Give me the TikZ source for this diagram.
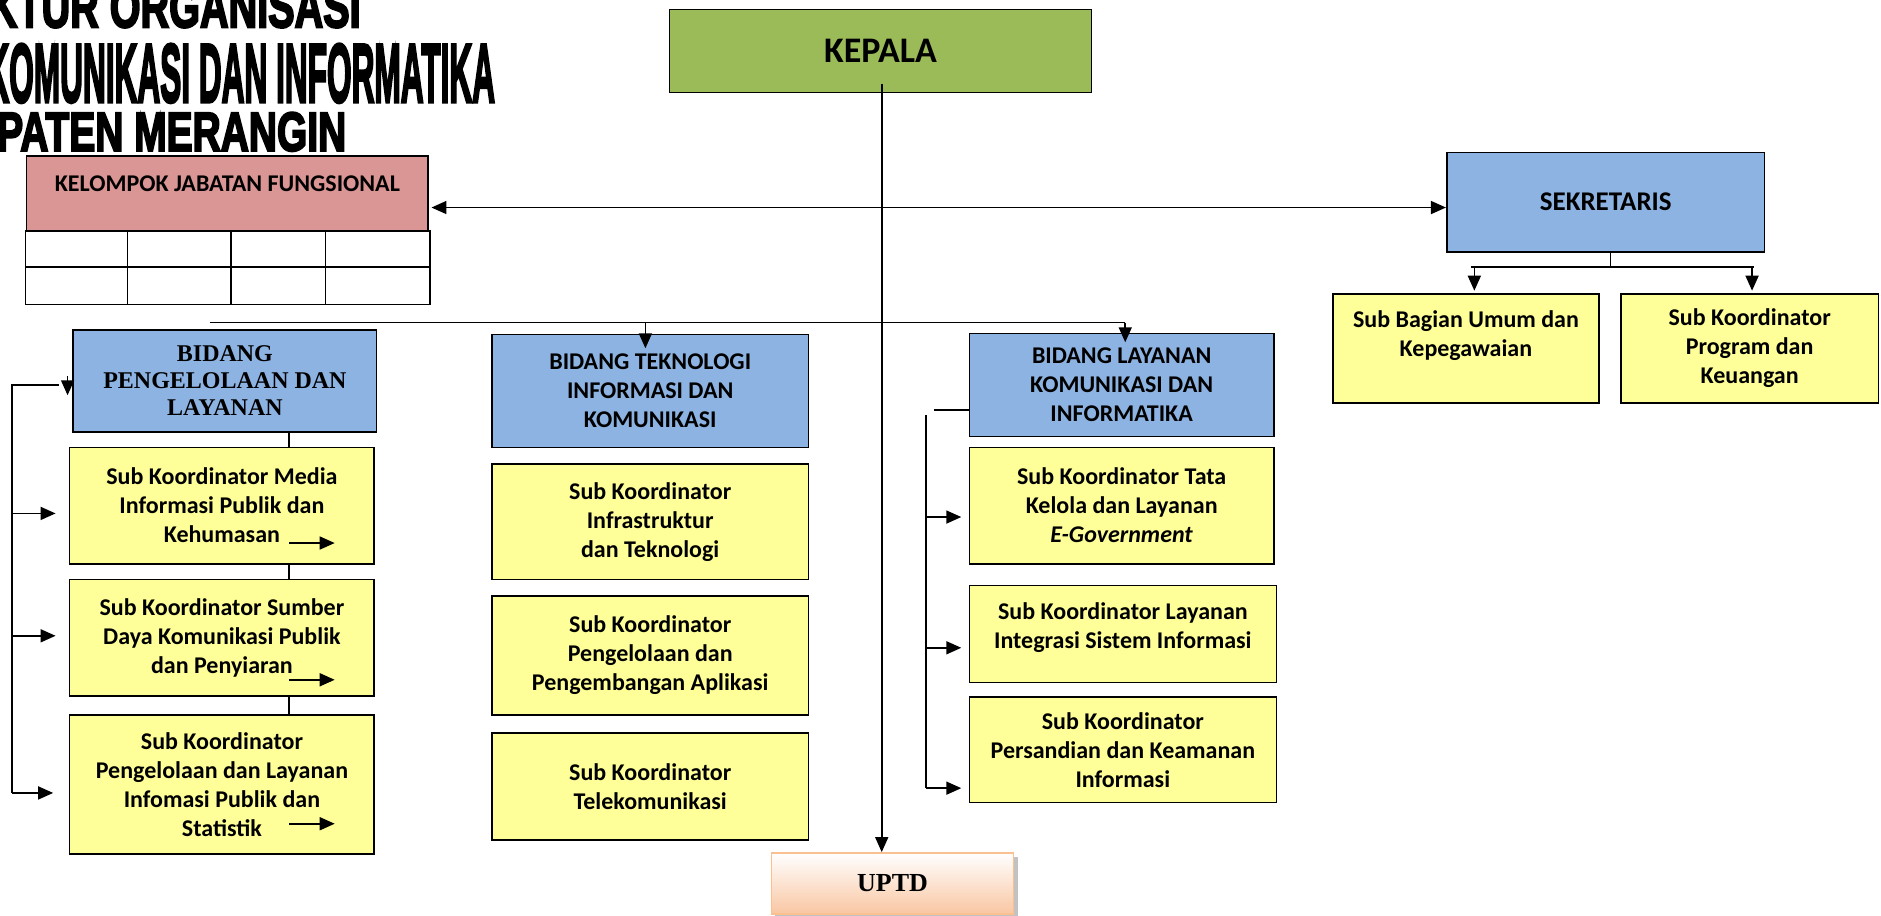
\documentclass[tikz,border=0pt]{standalone}
\usepackage{fontspec}
\usepackage{graphicx}
\usetikzlibrary{arrows.meta,shadows}

\newfontfamily\boxfont{Carlito}
\newfontfamily\serffont{Liberation Serif}
\newfontfamily\judulfont[BoldFeatures={FakeBold=4}]{Liberation Sans}

\definecolor{hijau}{HTML}{9BBB59}
\definecolor{merahmuda}{HTML}{D99694}
\definecolor{birumuda}{HTML}{8DB3E2}
\definecolor{kuning}{HTML}{FFFF99}
\definecolor{persik}{HTML}{F9C6A2}
\definecolor{persikgaris}{HTML}{FAC090}

\begin{document}
\begin{tikzpicture}[x=0.6pt, y=-0.6pt, thick, >={Triangle[length=7.5pt,width=6.5pt]},
  kotak/.style 2 args={draw, minimum width=#1*0.6pt, minimum height=#2*0.6pt, inner sep=0pt, align=center},
  tulisan/.style={font=\boxfont\bfseries\fontsize{12}{14.5}\selectfont},
  subkoor/.style={fill=kuning, tulisan},
  bidang/.style={fill=birumuda, tulisan}]
\useasboundingbox (0,0) rectangle (1568,763);

% judul
\node[anchor=north west, inner sep=0pt] (judul1) at (-10,-12)
  {\resizebox{186pt}{20.4pt}{\judulfont\bfseries KTUR ORGANISASI}};
\node[anchor=north west, inner sep=0pt] (judul2) at (-12,36)
  {\resizebox{254.4pt}{29pt}{\judulfont\bfseries KOMUNIKASI DAN INFORMATIKA}};
\node[anchor=north west, inner sep=0pt] (judul3) at (-3,93)
  {\resizebox{174.6pt}{19.2pt}{\judulfont\bfseries PATEN MERANGIN}};

% pimpinan
\node[kotak={352}{69}, fill=hijau, font=\boxfont\bfseries\fontsize{18}{21}\selectfont] (kepala) at (734,42.5) {KEPALA};
\node[kotak={335}{62}, fill=merahmuda, tulisan] (kjf) at (189.5,161) {KELOMPOK JABATAN FUNGSIONAL\\[-5pt]\mbox{}};
\node[kotak={265}{83}, bidang, font=\boxfont\bfseries\fontsize{13.5}{16}\selectfont] (sek) at (1338.5,168.5) {SEKRETARIS};
\node[kotak={222}{91}, subkoor] (sbu) at (1222,290.5) {Sub Bagian Umum dan\\Kepegawaian\\\mbox{}};
\node[kotak={215}{91}, subkoor] (spk) at (1458.5,290.5) {Sub Koordinator\\Program dan\\Keuangan};
\node[kotak={202}{51}, draw=persikgaris, top color=white, bottom color=persik,
  drop shadow={shadow xshift=2pt, shadow yshift=-2pt, fill=black!40, opacity=0.6},
  font=\serffont\bfseries\fontsize{13}{15}\selectfont] (uptd) at (744,736.5) {UPTD};

% tabel fungsional
\draw (kjf.south west) rectangle ++(337,61);
\draw ([shift={(0,30)}]kjf.south west) -- ++(337,0);
\foreach \x in {85,171,250}
  \draw ([shift={(\x,0)}]kjf.south west) -- ++(0,61);

% bidang pengelolaan
\node[kotak={253}{85}, fill=birumuda, font=\serffont\bfseries\fontsize{12}{13.5}\selectfont] (bpl) at (187.5,317.5) {BIDANG\\PENGELOLAAN DAN\\LAYANAN};
\node[kotak={254}{97}, subkoor] (pl1) at (185,421.5) {Sub Koordinator Media\\Informasi Publik dan\\Kehumasan};
\node[kotak={254}{97}, subkoor] (pl2) at (185,531.5) {Sub Koordinator Sumber\\Daya Komunikasi Publik\\dan Penyiaran};
\node[kotak={254}{116}, subkoor] (pl3) at (185,654) {Sub Koordinator\\Pengelolaan dan Layanan\\Infomasi Publik dan\\Statistik};

% bidang teknologi
\node[kotak={264}{94}, bidang] (bti) at (542,326) {BIDANG TEKNOLOGI\\INFORMASI DAN\\KOMUNIKASI};
\node[kotak={264}{96}, subkoor] (ti1) at (542,435) {Sub Koordinator\\Infrastruktur\\dan Teknologi};
\node[kotak={264}{99}, subkoor] (ti2) at (542,546.5) {Sub Koordinator\\Pengelolaan dan\\Pengembangan Aplikasi};
\node[kotak={264}{89}, subkoor] (ti3) at (542,655.5) {Sub Koordinator\\Telekomunikasi};

% bidang layanan
\node[kotak={254}{86}, bidang] (blk) at (935,321) {BIDANG LAYANAN\\KOMUNIKASI DAN\\INFORMATIKA};
\node[kotak={254}{97}, subkoor] (lk1) at (935,421.5) {Sub Koordinator Tata\\Kelola dan Layanan\\\textit{E-Government}};
\node[kotak={256}{81}, subkoor] (lk2) at (936,528.5) {Sub Koordinator Layanan\\Integrasi Sistem Informasi\\[-6.5pt]\mbox{}};
\node[kotak={256}{88}, subkoor] (lk3) at (936,625) {Sub Koordinator\\Persandian dan Keamanan\\Informasi};

% garis dari kepala
\draw[->] ([shift={(1,-8)}]kepala.south) -- ([shift={(-9,0)}]uptd.north);
\draw[<->] ([shift={(2,12)}]kjf.east) -- ([shift={(0,4.5)}]sek.west);

% sekretariat
\draw ([shift={(4,0)}]sek.south) -- ++(0,12) coordinate (sekBus);
\draw ([shift={(4,0)}]sbu.north |- sekBus) -- ([shift={(4,0)}]spk.north |- sekBus);
\draw[->] ([shift={(7,0)}]sbu.north |- sekBus) -- ([shift={(7,-2)}]sbu.north);
\draw[->] ([shift={(2,0)}]spk.north |- sekBus) -- ([shift={(2,-2)}]spk.north);

% garis bidang
\coordinate (busKiri) at (175,269);
\coordinate (busKanan) at (938,269);
\draw (busKiri) -- (busKanan);
\draw[->] ([shift={(-4,0)}]bti.north |- busKiri) -- ([shift={(-4,12)}]bti.north);
\draw[->] (busKanan) -- ([shift={(3,8)}]blk.north);

% kolom kiri
\foreach \a/\b in {bpl/pl1, pl1/pl2, pl2/pl3}
  \draw ([shift={(56,0)}]\b.north |- \a.south) -- ([shift={(56,0)}]\b.north);
\foreach \kk/\dy in {pl1/18, pl2/14, pl3/26}
  \draw[->] ([shift={(56,-\dy)}]\kk.south) -- ++(38,0);
\coordinate (kiriAtas) at (10,321);
\coordinate (kiriBawah) at (10,661);
\draw (kiriBawah) -- (kiriAtas) -- ([shift={(-11,0)}]kiriAtas -| bpl.west);
\draw[->] ([shift={(-4,-4)}]bpl.west) -- ([shift={(-4,12)}]bpl.west);
\draw[->] ([shift={(0,6.5)}]kiriAtas |- pl1.west) -- ([shift={(-11,6.5)}]pl1.west);
\draw[->] ([shift={(0,-1.5)}]kiriAtas |- pl2.west) -- ([shift={(-11,-1.5)}]pl2.west);
\draw[->] (kiriBawah) -- ([shift={(-13,7)}]pl3.west);

% kolom kanan
\coordinate (kananAtas) at (772,346);
\coordinate (kananBawah) at (772,657);
\draw (kananAtas) -- (kananBawah);
\draw ([shift={(-29,21)}]blk.west) -- ([shift={(0,21)}]blk.west);
\draw[->] ([shift={(0,9.5)}]kananAtas |- lk1.west) -- ([shift={(-6,9.5)}]lk1.west);
\draw[->] ([shift={(0,11.5)}]kananAtas |- lk2.west) -- ([shift={(-6,11.5)}]lk2.west);
\draw[->] (kananBawah) -- ([shift={(-6,32)}]lk3.west);
\end{tikzpicture}
\end{document}
